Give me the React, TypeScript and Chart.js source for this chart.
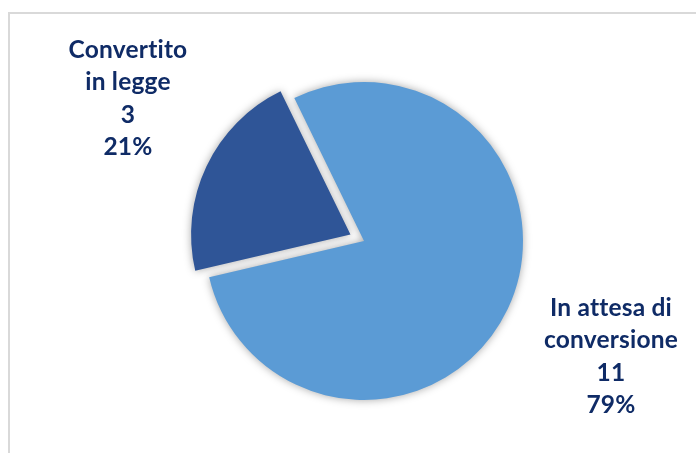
import React, { useEffect, useRef } from "react";
import { Chart, registerables } from "chart.js";

Chart.register(...registerables);

const categories: string[][] = [["In attesa di", "conversione"], ["Convertito", "in legge"]];
const values: number[] = [11, 3];
const colors: string[] = ["#5B9BD5", "#2F5597"];
// Chart.js moves an exploded arc by offset / 4
const offsets: number[] = [0, 60];

const TEXT_COLOR = "#0F2B66";
const FONT = "bold 24.5px Lato, 'Open Sans', sans-serif";

const labelPlugin = {
  id: "sliceLabels",
  beforeDatasetsDraw(chart: any) {
    const ctx = chart.ctx;
    ctx.save();
    ctx.shadowColor = "rgba(0,0,0,0.35)";
    ctx.shadowBlur = 8;
    ctx.shadowOffsetX = 0;
    ctx.shadowOffsetY = 0;
  },
  afterDatasetsDraw(chart: any) {
    chart.ctx.restore();
  },
  afterDraw(chart: any) {
    const ctx = chart.ctx;
    const total = values.reduce((a, b) => a + b, 0);
    const anchors = [
      { x: 611 / 696, y: 308 / 453 },
      { x: 128 / 696, y: 50 / 453 },
    ];
    ctx.save();
    ctx.fillStyle = TEXT_COLOR;
    ctx.font = FONT;
    try {
      (ctx as any).letterSpacing = "0.2px";
    } catch (e) {}
    ctx.textAlign = "center";
    ctx.textBaseline = "middle";
    values.forEach((v, i) => {
      const lines = [...categories[i], String(v), Math.round((v / total) * 100) + "%"];
      const ax = anchors[i].x * chart.width;
      const ay = anchors[i].y * chart.height;
      lines.forEach((ln, j) => ctx.fillText(ln, ax, ay + j * 32.5));
    });
    ctx.restore();
  },
};

export default function App() {
  const ref = useRef<HTMLCanvasElement | null>(null);
  useEffect(() => {
    if (!ref.current) return;
    const chart = new Chart(ref.current, {
      type: "pie",
      data: {
        labels: categories.map((c) => c.join(" ")),
        datasets: [
          {
            data: values,
            backgroundColor: colors,
            borderWidth: 0,
            offset: offsets,
          },
        ],
      },
      options: {
        animation: false,
        responsive: false,
        rotation: -26,
        radius: 159,
        layout: { padding: { left: 32, right: 0, top: 29, bottom: 0 } },
        plugins: { legend: { display: false }, tooltip: { enabled: false } },
      },
      plugins: [labelPlugin],
    });
    return () => chart.destroy();
  }, []);
  return (
    <div style={{ position: "fixed", left: 0, top: 0, width: 696, height: 453, background: "#fff", overflow: "hidden" }}>
      <div
        style={{
          position: "absolute",
          left: 8,
          top: 12,
          width: 720,
          height: 480,
          border: "2px solid #D9D9D9",
          boxSizing: "border-box",
        }}
      />
      <canvas ref={ref} width={696} height={453} style={{ position: "absolute", left: 0, top: 0 }} />
    </div>
  );
}
